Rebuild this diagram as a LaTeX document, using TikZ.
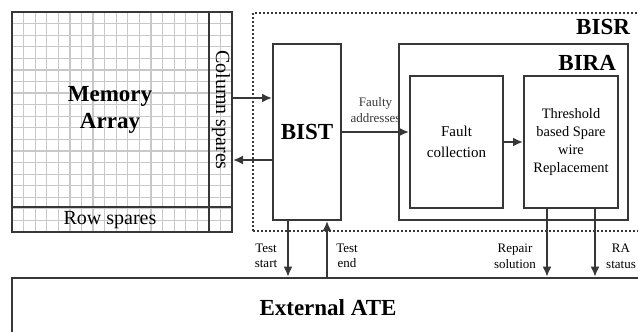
\documentclass[tikz,border=0pt]{standalone}
\usepackage{fontspec}
\setmainfont{Liberation Serif}
\usetikzlibrary{arrows.meta}
\definecolor{bisrline}{RGB}{55,55,55}
\definecolor{bisrgrid}{RGB}{200,200,200}

\begin{document}
\begin{tikzpicture}[x=.5pt,y=-.5pt,>={Latex[length=5pt,width=4.5pt]},
    unit/.style={draw=bisrline,line width=1pt,inner sep=0pt},
    title/.style={font=\fontsize{11.5}{13.5}\selectfont\bfseries},
    sig/.style={->,line width=.9pt,bisrline},
    note/.style={align=center,font=\fontsize{6.5}{7.8}\selectfont}]
  \useasboundingbox (0,0) rectangle (638,332);
  \clip (0,0) rectangle (638,332);
  % memory array with its spares
  \foreach \k in {1,...,18}
    \draw[bisrgrid,line width=.6pt] (12+\k*11.58,12) -- (12+\k*11.58,232)
      (12,12+\k*11.58) -- (232,12+\k*11.58);
  \node[unit,minimum width=110pt,minimum height=110pt] (mem) at (122,122) {};
  \draw[bisrline,line width=1pt] (209,12) -- (209,232) (12,207) -- (232,207);
  \node[title,align=center] (memtxt) at (110,110) {Memory\\Array};
  \node[rotate=-90,font=\fontsize{10}{12}\selectfont] (colsp) at (221,110) {Column spares};
  \node[font=\fontsize{10}{12}\selectfont] (rowsp) at (110,220) {Row spares};
  % BISR with BIST and BIRA
  \node[draw=bisrline,densely dotted,line width=1pt,minimum width=213.5pt,minimum height=109pt] (bisr) at (466.5,122) {};
  \node[title,anchor=east] (bisrtxt) at (637,27) {BISR};
  \node[unit,title,minimum width=34pt,minimum height=88pt] (bist) at (307,132) {BIST};
  \node[unit,minimum width=114.5pt,minimum height=88pt] (bira) at (513.5,132) {};
  \node[title,anchor=north east] (biratxt) at ([xshift=-3pt,yshift=-2.5pt]bira.north east) {BIRA};
  \node[unit,minimum width=46.5pt,minimum height=66pt,align=center,
    font=\fontsize{7.5}{10.5}\selectfont] (fault) at (456.5,142) {Fault\\collection};
  \node[unit,minimum width=47pt,minimum height=66pt,align=center,
    font=\fontsize{7.2}{9}\selectfont] (thresh) at (571,142) {Threshold\\based Spare\\wire\\Replacement};
  % external tester
  \node[draw=bisrline,line width=1.3pt,minimum width=340pt,minimum height=45pt] (ate) at (352,323) {};
  \node[title] (atetxt) at (328,308) {External ATE};
  % signals
  \draw[sig] (mem.east |- 0,98) -- (bist.west |- 0,98);
  \draw[sig] (bist.west |- 0,160) -- (mem.east |- 0,160);
  \draw[sig] (bist.east) -- (bist.east -| fault.west)
    node[midway,above=1pt,note] {Faulty\\addresses};
  \draw[sig] (fault) -- (thresh);
  \draw[sig] (bist.south -| 288,0) -- (ate.north -| 288,0);
  \draw[sig] (ate.north -| 327,0) -- (bist.south -| 327,0);
  \draw[sig] (thresh.south -| 547,0) -- (ate.north -| 547,0);
  \draw[sig] (thresh.south -| 595,0) -- (ate.north -| 595,0);
  \node[note] (tstart) at (266,256) {Test\\start};
  \node[note] (tend) at (347,256) {Test\\end};
  \node[note] (repair) at (515,256) {Repair\\solution};
  \node[note] (rastat) at (621,256) {RA\\status};
\end{tikzpicture}
\end{document}
